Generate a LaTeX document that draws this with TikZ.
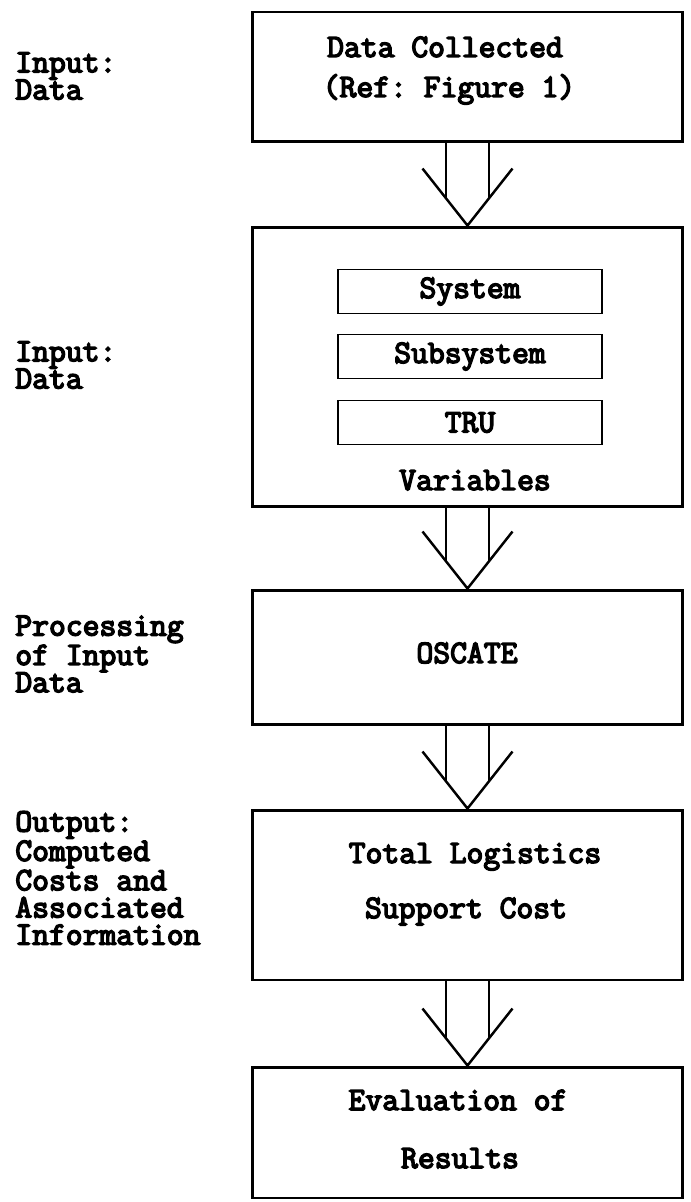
\documentclass[tikz,border=0pt]{standalone}
\usepackage{fontspec}
\setmonofont{Latin Modern Mono}[BoldFont={Latin Modern Mono},
                                BoldFeatures={FakeBold=4.5}]
\usetikzlibrary{calc}

\begin{document}
\begin{tikzpicture}[x=0.02cm, y=-0.02cm,
    font=\ttfamily\bfseries\fontsize{18.6pt}{15.5pt}\selectfont,
    box/.style={draw, line width=1.7pt, minimum width=8.62cm, inner sep=0pt},
    subbox/.style={draw, line width=1.1pt, minimum width=5.28cm,
                   minimum height=0.88cm, inner sep=0pt},
    txt/.style={anchor=base, inner sep=0pt},
    side/.style={anchor=west, align=left, inner sep=0pt},
    shaft/.style={line width=1.4pt}
]
  \useasboundingbox (0,0) rectangle (690,1202);

  % Data collected
  \node[box, minimum height=2.6cm] (collected) at (467.5,77) {};
  \node[txt] (collected1) at (445,57) {Data Collected};
  \node[txt] (collected2) at (449,97) {(Ref: Figure 1)};
  \node[side] (lblcollected) at (15,76) {Input:\\Data};

  % Variables
  \node[box, minimum height=5.6cm] (variables) at (467.5,367) {};
  \node[subbox] (system) at (470,291.5) {System};
  \node[subbox] (subsystem) at (470,356.5) {Subsystem};
  \node[subbox] (tru) at (470,422.5) {TRU};
  \node[txt] (varlabel) at (475,490) {Variables};
  \node[side] (lblvariables) at (15,365) {Input:\\Data};

  % OSCATE
  \node[box, minimum height=2.7cm] (oscate) at (467.5,657.5) {};
  \node[txt] (oscatetxt) at (467,663) {OSCATE};
  \node[side] (lbloscate) at (15,654) {Processing\\of Input\\Data};

  % Total cost
  \node[box, minimum height=3.4cm] (total) at (467.5,895) {};
  \node[txt] (total1) at (475,863) {Total Logistics};
  \node[txt] (total2) at (466,918) {Support Cost};
  \node[side] (lbltotal) at (15,878)
       {Output:\\Computed\\Costs and\\Associated\\Information};

  % Evaluation
  \node[box, minimum height=2.62cm] (evaluation) at (467.5,1132.5) {};
  \node[txt] (eval1) at (458,1110) {Evaluation of};
  \node[txt] (eval2) at (460,1168) {Results};

  % Arrows
  \foreach \from/\to in {collected/variables, variables/oscate,
                         oscate/total, total/evaluation} {
    \draw[shaft] ($(\from.south)+(-21.5,0)$) -- ($(\to.north)+(-21.5,-27)$);
    \draw[shaft] ($(\from.south)+(21.5,0)$) -- ($(\to.north)+(21.5,-27)$);
    \draw[shaft] ($(\to.north)+(-45,-57)$) -- (\to.north)
                 -- ($(\to.north)+(45,-57)$);
  }
\end{tikzpicture}
\end{document}
